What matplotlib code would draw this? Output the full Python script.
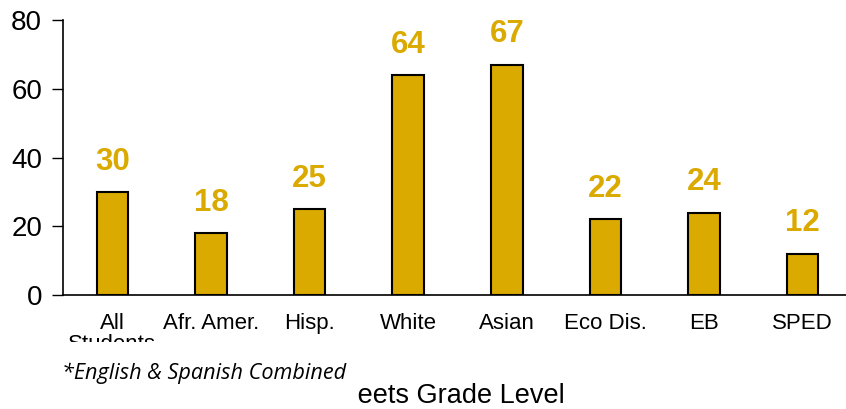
import matplotlib.pyplot as plt
from matplotlib.patches import Rectangle

# dati
categories = ['All\nStudents', 'Afr. Amer.', 'Hisp.', 'White', 'Asian', 'Eco Dis.', 'EB', 'SPED']
values = [30, 18, 25, 64, 67, 22, 24, 12]
y_ticks = [0, 20, 40, 60, 80]

gold = '#DAAA00'

W, H = 846, 409
fig = plt.figure(figsize=(W / 100, H / 100), dpi=100)
plt.rcParams['font.family'] = ['Liberation Sans', 'DejaVu Sans']

# asse: da x=63 a x=852 px, da y=20 a y=295 px
ax = fig.add_axes([63 / W, 1 - 295 / H, (852 - 63) / W, (295 - 20) / H])
x = list(range(len(categories)))
ax.bar(x, values, width=0.32, color=gold, edgecolor='black', linewidth=1.5, zorder=2)

for xi, v in zip(x, values):
    ax.annotate(str(v), (xi, v), xytext=(0, 11), textcoords='offset points',
                ha='center', va='bottom', fontsize=22.5, fontweight='bold', color=gold)

ax.set_xlim(-0.5, 7.5)
ax.set_ylim(0, 80)
ax.set_yticks(y_ticks)
ax.tick_params(axis='y', labelsize=20, length=8, width=1, pad=7)
ax.set_xticks(x)
ax.set_xticklabels(categories, fontsize=16, linespacing=1.0)
ax.tick_params(axis='x', length=0, pad=13)
for s in ['top', 'right']:
    ax.spines[s].set_visible(False)
ax.spines['left'].set_linewidth(1.2)
ax.spines['bottom'].set_linewidth(1.2)

# titolo dell'asse in basso
fig.text(450 / W, 1 - 403 / H, 'Meets Grade Level', ha='center', va='baseline', fontsize=19.5)

# riquadro bianco della nota che copre parte del testo
fig.patches.append(Rectangle((0, 0), 356 / W, 1 - 342 / H, transform=fig.transFigure,
                             facecolor='white', edgecolor='none', zorder=5))
fig.text(62 / W, 1 - 379 / H, '*English & Spanish Combined', ha='left', va='baseline',
         fontsize=15.6, style='italic', family=['Open Sans', 'DejaVu Sans'], zorder=6)

fig.savefig('out.png', dpi=100)
